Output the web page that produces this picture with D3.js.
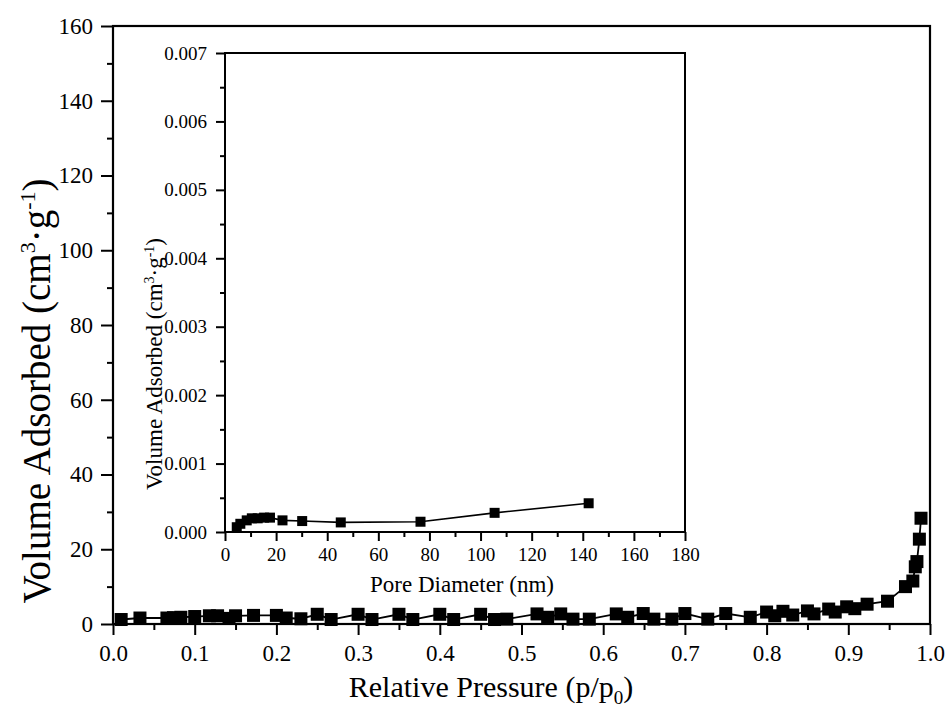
<!DOCTYPE html>
<html>
<head>
<meta charset="utf-8">
<script src="https://cdn.jsdelivr.net/npm/d3@7"></script>
<style>
  body { margin: 0; background: #fff; }
  svg text { font-family: "Liberation Serif", "Times New Roman", serif; fill: #000; }
</style>
</head>
<body>
<div id="chart"></div>
<script>
// isotherm data, relative pressure vs volume adsorbed (cm3/g)
var pressure = [0.010, 0.033, 0.066, 0.074, 0.083, 0.100, 0.118, 0.128, 0.142, 0.150,
  0.172, 0.200, 0.212, 0.230, 0.250, 0.267, 0.300, 0.317, 0.350, 0.367,
  0.400, 0.417, 0.450, 0.467, 0.482, 0.519, 0.532, 0.548, 0.563, 0.583,
  0.616, 0.630, 0.649, 0.662, 0.684, 0.700, 0.728, 0.750, 0.780, 0.800,
  0.810, 0.820, 0.832, 0.850, 0.858, 0.876, 0.884, 0.898, 0.908, 0.923,
  0.948, 0.970, 0.979, 0.982, 0.984, 0.987, 0.989];
var volume = [1.2, 1.6, 1.6, 1.7, 1.8, 2.0, 2.2, 2.2, 1.5, 2.2,
  2.3, 2.3, 1.6, 1.4, 2.6, 1.2, 2.6, 1.2, 2.6, 1.2,
  2.6, 1.2, 2.6, 1.2, 1.3, 2.7, 1.8, 2.7, 1.3, 1.3,
  2.7, 1.8, 2.8, 1.3, 1.3, 2.8, 1.3, 2.8, 1.8, 3.2,
  2.2, 3.4, 2.4, 3.5, 2.7, 4.0, 3.2, 4.6, 4.1, 5.3,
  6.1, 10.0, 11.5, 15.3, 16.7, 22.7, 28.3];

// inset: pore size distribution
var poreDiameter = [4.6, 6.0, 8.5, 10.5, 12.8, 15.3, 17.6, 22.5, 30.2, 45.3, 76.5, 105.5, 142.3];
var poreVolume = [0.00007, 0.00012, 0.00017, 0.0002, 0.0002, 0.00021, 0.00021, 0.00017, 0.00016, 0.00014, 0.00015, 0.00028, 0.00042];

var mainXTicks = [0, 0.1, 0.2, 0.3, 0.4, 0.5, 0.6, 0.7, 0.8, 0.9, 1.0];
var mainYTicks = [0, 20, 40, 60, 80, 100, 120, 140, 160];
var insetXTicks = [0, 20, 40, 60, 80, 100, 120, 140, 160, 180];
var insetYTicks = [0, 0.001, 0.002, 0.003, 0.004, 0.005, 0.006, 0.007];

var width = 951, height = 709;
var svg = d3.select("#chart").append("svg")
  .attr("width", width)
  .attr("height", height);

// main plot
var x = d3.scaleLinear().domain([0, 1]).range([113, 930]);
var y = d3.scaleLinear().domain([0, 160]).range([624, 26]);

function styleAxis(g) {
  g.select(".domain").remove();
  g.selectAll(".tick line").attr("stroke", "#000").attr("stroke-width", 2);
}

// minor ticks first
svg.append("g")
  .attr("transform", "translate(0," + y(0) + ")")
  .call(d3.axisBottom(x).tickValues(d3.range(0.05, 1, 0.1)).tickSize(6).tickFormat(""))
  .call(styleAxis);
svg.append("g")
  .attr("transform", "translate(" + x(0) + ",0)")
  .call(d3.axisLeft(y).tickValues(d3.range(10, 160, 20)).tickSize(6).tickFormat(""))
  .call(styleAxis);

var gx = svg.append("g")
  .attr("transform", "translate(0," + y(0) + ")")
  .call(d3.axisBottom(x).tickValues(mainXTicks).tickSize(11).tickPadding(10).tickFormat(d3.format(".1f")))
  .call(styleAxis);
gx.selectAll("text").style("font-size", "23px");

var gy = svg.append("g")
  .attr("transform", "translate(" + x(0) + ",0)")
  .call(d3.axisLeft(y).tickValues(mainYTicks).tickSize(12).tickPadding(8))
  .call(styleAxis);
gy.selectAll("text").style("font-size", "23px");

svg.append("rect")
  .attr("x", x(0)).attr("y", y(160))
  .attr("width", x(1) - x(0)).attr("height", y(0) - y(160))
  .attr("fill", "none").attr("stroke", "#000").attr("stroke-width", 2.2);

var mainLine = d3.line()
  .x(function(d, i) { return x(pressure[i]); })
  .y(function(d, i) { return y(volume[i]); });

svg.append("path")
  .datum(pressure)
  .attr("d", mainLine)
  .attr("fill", "none").attr("stroke", "#000").attr("stroke-width", 1.8);

svg.append("g").selectAll("rect")
  .data(pressure)
  .enter().append("rect")
  .attr("x", function(d) { return x(d) - 6.5; })
  .attr("y", function(d, i) { return y(volume[i]) - 6.5; })
  .attr("width", 13).attr("height", 13)
  .attr("fill", "#000");

// axis titles
var xt = svg.append("text")
  .attr("x", 491).attr("y", 697)
  .attr("text-anchor", "middle")
  .style("font-size", "30px");
xt.append("tspan").text("Relative Pressure (p/p");
xt.append("tspan").attr("dy", 7).style("font-size", "19px").text("0");
xt.append("tspan").attr("dy", -7).text(")");

var yt = svg.append("text")
  .attr("transform", "translate(50,391) rotate(-90)")
  .attr("text-anchor", "middle")
  .style("font-size", "39px");
yt.append("tspan").text("Volume Adsorbed (cm");
yt.append("tspan").attr("dy", -15).style("font-size", "22px").text("3");
yt.append("tspan").attr("dy", 15).text("·g");
yt.append("tspan").attr("dy", -15).style("font-size", "22px").text("-1");
yt.append("tspan").attr("dy", 15).text(")");

// inset
var ix = d3.scaleLinear().domain([0, 180]).range([225, 685]);
var iy = d3.scaleLinear().domain([0, 0.007]).range([532, 53]);

svg.append("rect")
  .attr("x", ix(0)).attr("y", iy(0.007))
  .attr("width", ix(180) - ix(0)).attr("height", iy(0) - iy(0.007))
  .attr("fill", "#fff");

svg.append("g")
  .attr("transform", "translate(0," + iy(0) + ")")
  .call(d3.axisBottom(ix).tickValues(d3.range(10, 180, 20)).tickSize(5).tickFormat(""))
  .call(styleAxis);
svg.append("g")
  .attr("transform", "translate(" + ix(0) + ",0)")
  .call(d3.axisLeft(iy).tickValues(d3.range(0.0005, 0.007, 0.001)).tickSize(5).tickFormat(""))
  .call(styleAxis);

var igx = svg.append("g")
  .attr("transform", "translate(0," + iy(0) + ")")
  .call(d3.axisBottom(ix).tickValues(insetXTicks).tickSize(9).tickPadding(7))
  .call(styleAxis);
igx.selectAll("text").style("font-size", "19px");

var igy = svg.append("g")
  .attr("transform", "translate(" + ix(0) + ",0)")
  .call(d3.axisLeft(iy).tickValues(insetYTicks).tickSize(9).tickPadding(9).tickFormat(d3.format(".3f")))
  .call(styleAxis);
igy.selectAll("text").style("font-size", "19px");

svg.append("rect")
  .attr("x", ix(0)).attr("y", iy(0.007))
  .attr("width", ix(180) - ix(0)).attr("height", iy(0) - iy(0.007))
  .attr("fill", "none").attr("stroke", "#000").attr("stroke-width", 2);

var insetLine = d3.line()
  .x(function(d, i) { return ix(poreDiameter[i]); })
  .y(function(d, i) { return iy(poreVolume[i]); });

svg.append("path")
  .datum(poreDiameter)
  .attr("d", insetLine)
  .attr("fill", "none").attr("stroke", "#000").attr("stroke-width", 1.6);

svg.append("g").selectAll("rect")
  .data(poreDiameter)
  .enter().append("rect")
  .attr("x", function(d) { return ix(d) - 5; })
  .attr("y", function(d, i) { return iy(poreVolume[i]) - 5; })
  .attr("width", 10).attr("height", 10)
  .attr("fill", "#000");

svg.append("text")
  .attr("x", 462).attr("y", 592)
  .attr("text-anchor", "middle")
  .style("font-size", "23px")
  .text("Pore Diameter (nm)");

var iyt = svg.append("text")
  .attr("transform", "translate(162,364) rotate(-90)")
  .attr("text-anchor", "middle")
  .style("font-size", "23px");
iyt.append("tspan").text("Volume Adsorbed (cm");
iyt.append("tspan").attr("dy", -8).style("font-size", "14px").text("3");
iyt.append("tspan").attr("dy", 8).text("·g");
iyt.append("tspan").attr("dy", -8).style("font-size", "14px").text("-1");
iyt.append("tspan").attr("dy", 8).text(")");
</script>
</body>
</html>
